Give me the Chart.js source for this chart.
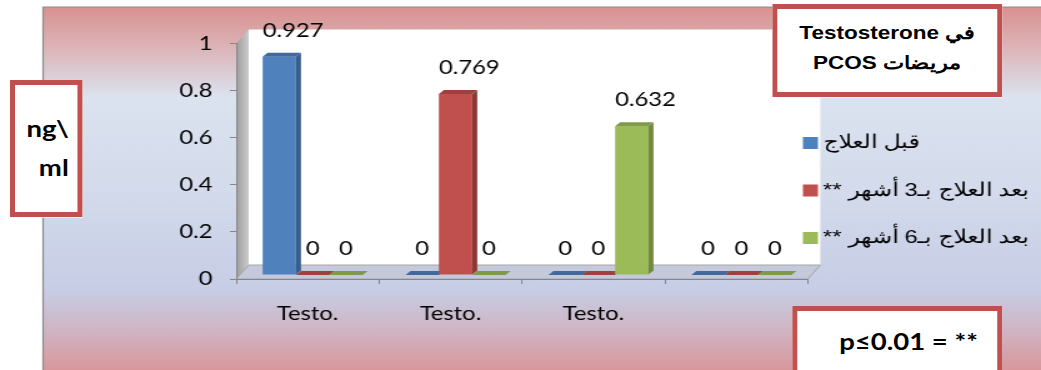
<!DOCTYPE html>
<html>
<head>
<meta charset="utf-8">
<script src="https://cdn.jsdelivr.net/npm/chart.js@4.4.1/dist/chart.umd.min.js"></script>
<style>
  html, body { margin: 0; padding: 0; background: #fff; overflow: hidden; }
  /* the whole drawing is laid out narrow and stretched sideways */
  #stage { position: relative; width: 833px; height: 370px; transform: scaleX(1.2497); transform-origin: 0 0; }
  #chart { position: absolute; left: 0; top: 0; }
  .note { position: absolute; box-sizing: border-box; background: #fff; border: 5px solid #c0504d; border-left-width: 4px; border-right-width: 4px; color: #000; font-weight: bold; }
  #title { left: 618px; top: 4px; width: 184px; height: 93px; padding-top: 9px; font: bold 18px "Liberation Sans", sans-serif; line-height: 30px; text-align: center; }
  #unit { left: 8px; top: 80px; width: 58px; height: 137px; padding: 24px 7px 0 0; font: bold 22px Lato, sans-serif; line-height: 39px; text-align: right; }
  #sig { left: 634px; top: 306px; width: 168px; height: 80px; padding: 16px 0 0 18px; font: bold 22px Lato, sans-serif; line-height: 30px; text-align: center; }
</style>
</head>
<body>
<div id="stage">
  <canvas id="chart" width="833" height="370"></canvas>
  <div class="note" id="title" dir="rtl">في Testosterone<br>مريضات PCOS</div>
  <div class="note" id="unit">ng\<br>ml</div>
  <div class="note" id="sig">p≤0.01 = **</div>
</div>
<script>
const categories = ['Testo.', 'Testo.', 'Testo.', ''];
const seriesNames = ['قبل العلاج', 'بعد العلاج بـ3 أشهر **', 'بعد العلاج بـ6 أشهر **'];
const beforeTreatment = [0.927, 0, 0, 0];
const after3Months = [0, 0.769, 0, 0];
const after6Months = [0, 0, 0.632, 0];
const yTicks = [0, 0.2, 0.4, 0.6, 0.8, 1];

// front, side and top shades for each series
const shades = [
  { front: '#4f81bd', side: '#385d8a', top: '#41699b' },
  { front: '#c0504d', side: '#8c3836', top: '#9e403d' },
  { front: '#9bbb59', side: '#71893f', top: '#7f9a48' }
];

const WALL = { x: 10, y: -14 };   // depth of the back wall / floor
const BAR_SHIFT = { x: 4, y: -4 }; // bars sit a little into the floor
const BAR_DEPTH = { x: 4, y: -4 };

function poly(ctx, pts, fill) {
  ctx.beginPath();
  ctx.moveTo(pts[0][0], pts[0][1]);
  for (let i = 1; i < pts.length; i++) ctx.lineTo(pts[i][0], pts[i][1]);
  ctx.closePath();
  ctx.fillStyle = fill;
  ctx.fill();
}

// gradient background, back wall, side wall and floor
const backdrop = {
  id: 'backdrop',
  beforeDraw(chart) {
    const { ctx, width, height, chartArea: ca } = chart;
    ctx.save();
    ctx.fillStyle = '#fff';
    ctx.fillRect(0, 0, width, height);

    const top = 7, left = 34.5;
    const g = ctx.createLinearGradient(0, top, 0, height);
    g.addColorStop(0, '#d8918f');
    g.addColorStop(0.10, '#dcb0b3');
    g.addColorStop(0.25, '#dbe3f0');
    g.addColorStop(0.50, '#d3dbec');
    g.addColorStop(0.78, '#c6cde5');
    g.addColorStop(0.88, '#cfb7c6');
    g.addColorStop(1, '#d8979b');
    ctx.fillStyle = g;
    ctx.fillRect(left, top, width - left, height - top);
    ctx.strokeStyle = '#8c8c8c';
    ctx.lineWidth = 1.2;
    ctx.beginPath();
    ctx.moveTo(left, height);
    ctx.lineTo(left, top);
    ctx.lineTo(width, top);
    ctx.stroke();

    const L = ca.left, R = ca.right, T = ca.top, B = ca.bottom;
    // back wall
    ctx.fillStyle = '#fff';
    ctx.fillRect(L + WALL.x, T + WALL.y, R - L, B - T);
    // side wall
    const sg = ctx.createLinearGradient(L, 0, L + WALL.x, 0);
    sg.addColorStop(0, '#9c9c9c');
    sg.addColorStop(1, '#cdcdcd');
    poly(ctx, [[L, T], [L + WALL.x, T + WALL.y], [L + WALL.x, B + WALL.y], [L, B]], sg);
    // floor
    const floor = [[L, B], [R, B], [R + WALL.x, B + WALL.y], [L + WALL.x, B + WALL.y]];
    poly(ctx, floor, 'rgba(190,190,200,0.35)');
    ctx.strokeStyle = '#a6a6a6';
    ctx.lineWidth = 1;
    ctx.beginPath();
    floor.forEach((p, i) => i ? ctx.lineTo(p[0], p[1]) : ctx.moveTo(p[0], p[1]));
    ctx.closePath();
    ctx.stroke();
    ctx.restore();
  }
};

// 3D bars built from the bar elements Chart.js lays out
const bars3d = {
  id: 'bars3d',
  beforeDatasetsDraw(chart) {
    const { ctx } = chart;
    const metas = chart.data.datasets.map((d, i) => chart.getDatasetMeta(i));
    ctx.save();
    categories.forEach((c, j) => {
      metas.forEach((meta, i) => {
        const { x, y, base, width } = meta.data[j].getProps(['x', 'y', 'base', 'width'], true);
        const l = x - width / 2 + BAR_SHIFT.x, r = x + width / 2 + BAR_SHIFT.x;
        const t = y + BAR_SHIFT.y, b = base + BAR_SHIFT.y;
        const s = shades[i];
        if (b - t > 0.5) {
          ctx.fillStyle = s.front;
          ctx.fillRect(l, t, r - l, b - t);
          poly(ctx, [[r, t], [r + BAR_DEPTH.x, t + BAR_DEPTH.y], [r + BAR_DEPTH.x, b + BAR_DEPTH.y], [r, b]], s.side);
        }
        poly(ctx, [[l, t], [r, t], [r + BAR_DEPTH.x, t + BAR_DEPTH.y], [l + BAR_DEPTH.x, t + BAR_DEPTH.y]], s.top);
      });
    });
    ctx.restore();
    return false;
  },
  afterDraw(chart) {
    const { ctx } = chart;
    ctx.save();
    // value labels above each bar
    ctx.font = '19px Lato';
    ctx.fillStyle = '#000';
    ctx.textAlign = 'center';
    ctx.textBaseline = 'middle';
    chart.data.datasets.forEach((ds, i) => {
      chart.getDatasetMeta(i).data.forEach((bar, j) => {
        const v = ds.data[j];
        const { x, y } = bar.getProps(['x', 'y'], true);
        const dx = v > 0 ? 11 : 0;
        ctx.fillText(String(v), x + BAR_SHIFT.x + dx, y + BAR_SHIFT.y - 26);
      });
    });

    // legend beside the plot, square on the left and Arabic text after it
    ctx.font = '19px "Liberation Sans"';
    ctx.direction = 'rtl';
    ctx.textAlign = 'left';
    chart.data.datasets.forEach((ds, i) => {
      const cy = 143 + i * 47.5;
      ctx.fillStyle = ds.backgroundColor;
      ctx.fillRect(642.5, cy - 6, 12, 12);
      ctx.fillStyle = '#000';
      ctx.fillText(ds.label, 658.5, cy);
    });
    ctx.restore();
  }
};

new Chart(document.getElementById('chart'), {
  type: 'bar',
  data: {
    labels: categories,
    datasets: [
      { label: seriesNames[0], data: beforeTreatment, backgroundColor: shades[0].front },
      { label: seriesNames[1], data: after3Months, backgroundColor: shades[1].front },
      { label: seriesNames[2], data: after6Months, backgroundColor: shades[2].front }
    ]
  },
  options: {
    responsive: false,
    animation: false,
    devicePixelRatio: 1,
    layout: { padding: { top: 43.5, right: 186.6, bottom: 0, left: 0 } },
    datasets: { bar: { categoryPercentage: 0.7, barPercentage: 1 } },
    plugins: { legend: { display: false }, tooltip: { enabled: false } },
    scales: {
      x: {
        grid: { offset: true, drawOnChartArea: false, tickLength: 5, color: '#868686' },
        border: { color: '#868686' },
        ticks: { font: { family: 'Lato', size: 19 }, color: '#000', padding: 18 },
        afterFit(s) { s.height = 91; }
      },
      y: {
        min: 0,
        max: 1,
        afterBuildTicks(s) { s.ticks = yTicks.map(v => ({ value: v })); },
        grid: { drawOnChartArea: false, tickLength: 5, color: '#868686' },
        border: { color: '#868686' },
        ticks: { font: { family: 'Lato', size: 19 }, color: '#000', padding: 14, callback: v => String(v) },
        afterFit(s) { s.width = 189; }
      }
    }
  },
  plugins: [backdrop, bars3d]
});
</script>
</body>
</html>
